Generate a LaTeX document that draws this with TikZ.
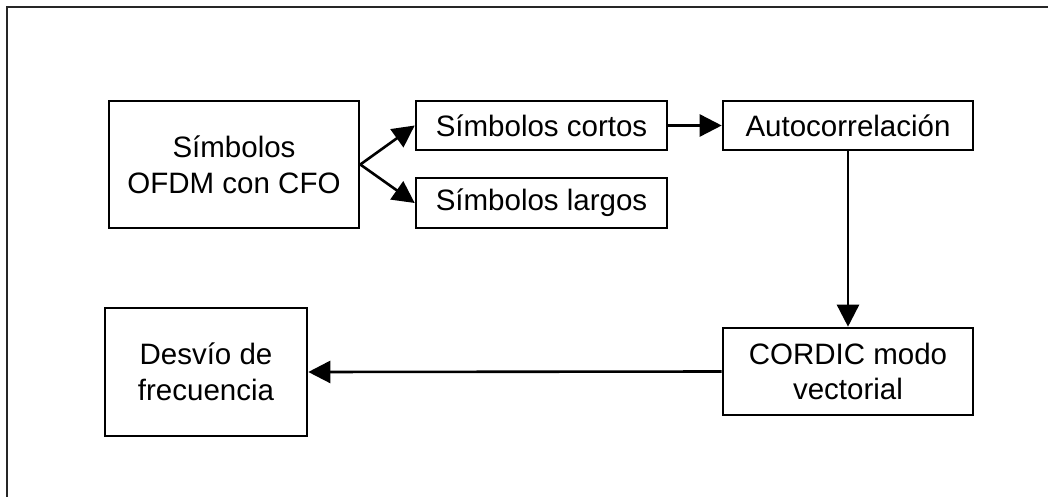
\documentclass[tikz,border=0pt]{standalone}
\usepackage{fontspec}
\setmainfont{Liberation Sans}
\usetikzlibrary{arrows.meta}
\begin{document}
\begin{tikzpicture}[x=1pt,y=-1pt,
  blockbox/.style={draw,line width=2.6pt,inner sep=0pt,align=center,
    font=\fontsize{29.5}{35.7}\selectfont},
  flow/.style={line width=2.6pt,-{Triangle[length=22pt,width=22pt]}}]
\useasboundingbox (0,0) rectangle (1048,497);
% open frame: only the top and left edges
\draw[line width=2.8pt,black!85] (7,497) -- (7,7) -- (1048,7);
% blocks
\node[blockbox,minimum width=250pt,minimum height=127pt] (src) at (234,164.5) {Símbolos\\OFDM con CFO};
\node[blockbox,minimum width=251pt,minimum height=49pt] (short) at (541.5,125.5) {Símbolos cortos};
\node[blockbox,minimum width=251pt,minimum height=50pt] (long) at (541.5,203) {Símbolos largos};
\node[blockbox,minimum width=250pt,minimum height=49pt] (auto) at (848,125.5) {Autocorrelación};
\node[blockbox,minimum width=250pt,minimum height=87pt] (cordic) at (848,371.5) {CORDIC modo\\vectorial};
\node[blockbox,minimum width=202pt,minimum height=128pt] (desv) at (206,372) {Desvío de\\frecuencia};
% connectors
\draw[flow] (src.east) -- (short.west);
\draw[flow] (src.east) -- (long.west);
\draw[flow] (short.east) -- (auto.west);
\draw[flow] (auto.south) -- (cordic.north);
\draw[flow] (cordic.west) -- (desv.east);
\end{tikzpicture}
\end{document}
